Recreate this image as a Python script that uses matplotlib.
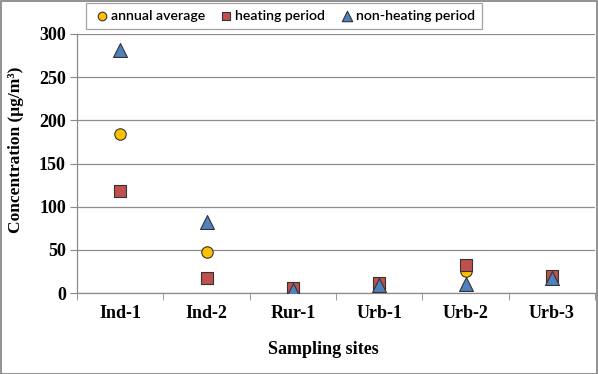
import matplotlib
matplotlib.use("Agg")
import matplotlib.pyplot as plt
from matplotlib.patches import Rectangle

sites = ["Ind-1", "Ind-2", "Rur-1", "Urb-1", "Urb-2", "Urb-3"]
annual = [184, 47, 5, 11, 26, 19]
heating = [118, 17, 6, 12, 32, 20]
nonheating = [282, 82, 4, 9, 10, 17]
yticks = [0, 50, 100, 150, 200, 250, 300]

W, H = 598, 374
fig = plt.figure(figsize=(W / 100, H / 100), dpi=100)
ax = fig.add_axes([77 / W, (H - 293) / H, (595 - 77) / W, (293 - 34) / H])

x = list(range(len(sites)))
ax.scatter(x, annual, marker="o", s=68, color="#FFC000", edgecolors="#333333",
           linewidths=0.8, zorder=3, label="annual average")
ax.scatter(x, heating, marker="s", s=68, color="#C0504D", edgecolors="#333333",
           linewidths=0.8, zorder=4, label="heating period")
ax.scatter(x, nonheating, marker="^", s=100, color="#4F81BD", edgecolors="#333333",
           linewidths=0.8, zorder=5, label="non-heating period")

ax.set_xlim(-0.5, len(sites) - 0.5)
ax.set_ylim(0, 300)
ax.set_yticks(yticks)
ax.set_yticklabels([str(v) for v in yticks], fontfamily="Liberation Serif",
                   fontweight="bold", fontsize=13)
ax.set_xticks(x)
ax.set_xticklabels(sites, fontfamily="Liberation Serif", fontweight="bold", fontsize=13)
ax.tick_params(axis="x", length=0, pad=9)
ax.set_xticks([i - 0.5 for i in range(len(sites) + 1)], minor=True)
ax.tick_params(axis="x", which="minor", length=5, color="#888888", direction="out")
ax.tick_params(axis="y", length=5, color="#888888", direction="out", pad=3)

ax.grid(axis="y", color="#8C8C8C", linewidth=0.9, zorder=0)
ax.set_axisbelow(True)
for s in ["top", "right"]:
    ax.spines[s].set_visible(False)
for s in ["left", "bottom"]:
    ax.spines[s].set_color("#8C8C8C")
    ax.spines[s].set_linewidth(0.9)

ax.set_xlabel("Sampling sites", fontfamily="Liberation Serif", fontweight="bold",
              fontsize=13)
ax.xaxis.set_label_coords((323 - 77) / 518, -(350 - 293) / 259)
ax.xaxis.label.set_verticalalignment("center")
ax.set_ylabel("Concentration (μg/m³)", fontfamily="Liberation Serif",
              fontweight="bold", fontsize=12.5)
ax.yaxis.set_label_coords(-(77 - 16) / 518, (293 - 150) / 259)
ax.yaxis.label.set_verticalalignment("center")

leg = fig.legend(loc="upper left", bbox_to_anchor=(86 / W, 1 - 3 / H), ncol=3,
                 frameon=True, fancybox=False, edgecolor="#8C8C8C",
                 prop={"family": "Lato", "size": 10.2, "weight": "semibold"},
                 handletextpad=0.05, columnspacing=0.9, borderpad=0.5,
                 borderaxespad=0.0, handlelength=1.2, markerscale=0.75)
leg.get_frame().set_linewidth(0.9)

fig.patches.append(Rectangle((0.5 / W, 0.5 / H), 1 - 1.5 / W, 1 - 1.5 / H,
                             transform=fig.transFigure, fill=False,
                             edgecolor="#7F7F7F", linewidth=1.2))

fig.savefig("out.png", dpi=100)
